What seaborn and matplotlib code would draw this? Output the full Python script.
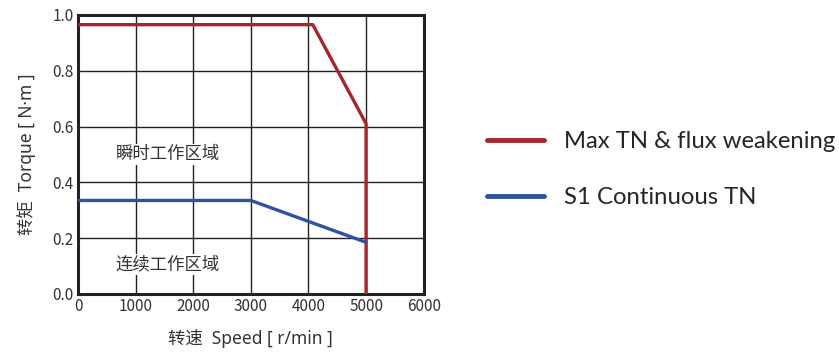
import pandas as pd
import seaborn as sns
import matplotlib.pyplot as plt

sns.set_theme(style="white")
plt.rcParams['font.family'] = ['Noto Sans CJK SC', 'DejaVu Sans']

# curve points
max_speed = [0, 4075, 5000, 5000]
max_torque = [0.965, 0.965, 0.61, 0.0]
s1_speed = [0, 3000, 5000]
s1_torque = [0.335, 0.335, 0.185]
names = ["Max TN & flux weakening", "S1 Continuous TN"]

df = pd.concat([
    pd.DataFrame({"speed": max_speed, "torque": max_torque, "curve": names[0]}),
    pd.DataFrame({"speed": s1_speed, "torque": s1_torque, "curve": names[1]}),
])

fig = plt.figure(figsize=(8.39, 3.55), dpi=100)
ax = fig.add_axes([0.093, 0.172, 0.412, 0.786])

sns.lineplot(data=df, x="speed", y="torque", hue="curve", sort=False, estimator=None,
             palette=["#A5262C", "#2F52A4"], linewidth=2.4, ax=ax, zorder=3)

ax.set_xlim(0, 6000)
ax.set_ylim(0, 1.0)
ax.set_xticks(range(0, 7000, 1000))
ax.set_yticks([0, 0.2, 0.4, 0.6, 0.8, 1.0])
ax.set_yticklabels(["0.0", "0.2", "0.4", "0.6", "0.8", "1.0"])
ax.grid(True, color="#222222", linewidth=1.0)
ax.tick_params(labelsize=11, colors="#333333", pad=3, length=0)
for s in ax.spines.values():
    s.set_color("#222222")
    s.set_linewidth(2.2)

lab_font = ["Noto Sans", "Noto Sans CJK SC"]
ax.set_xlabel("转速  Speed [ r/min ]", fontsize=12.5, color="#333333", labelpad=10,
              family=lab_font)
ax.set_ylabel("转矩  Torque [ N·m ]", fontsize=12.5, color="#333333", labelpad=12,
              family=lab_font)

ax.text(1560, 0.5, "瞬时工作区域", fontsize=12.5, color="#333333", ha="center", va="center",
        bbox=dict(facecolor="white", edgecolor="none", pad=1), zorder=4)
ax.text(1560, 0.105, "连续工作区域", fontsize=12.5, color="#333333", ha="center", va="center",
        bbox=dict(facecolor="white", edgecolor="none", pad=1), zorder=4)

leg = ax.legend(loc="center left", bbox_to_anchor=(1.12, 0.445), frameon=False,
                handlelength=2.4, handletextpad=0.85, labelspacing=1.45,
                prop={"family": "Lato", "size": 17.2})
for h in leg.get_lines():
    h.set_linewidth(3.5)

fig.savefig("out.png", dpi=100)
